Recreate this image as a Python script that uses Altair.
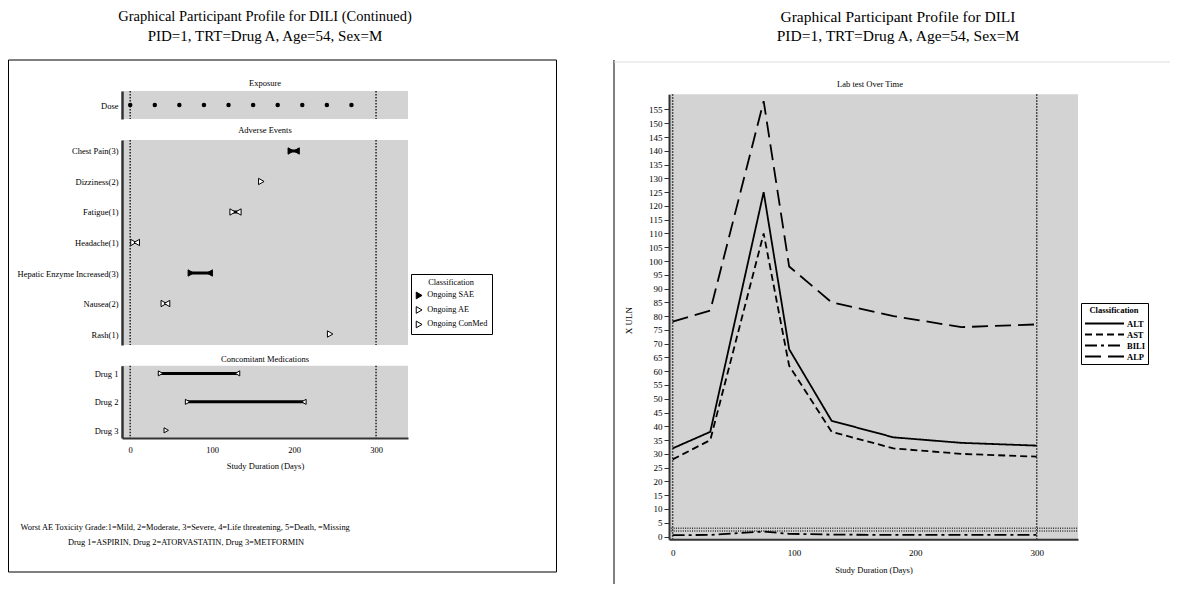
import altair as alt
import pandas as pd

FONT = "Liberation Serif"

# ---------------- data ----------------
title_left_1 = "Graphical Participant Profile for DILI (Continued)"
title_right_1 = "Graphical Participant Profile for DILI"
title_2 = "PID=1, TRT=Drug A, Age=54, Sex=M"
footnote_1 = "Worst AE Toxicity Grade:1=Mild, 2=Moderate, 3=Severe, 4=Life threatening, 5=Death, =Missing"
footnote_2 = "Drug 1=ASPIRIN, Drug 2=ATORVASTATIN, Drug 3=METFORMIN"

dose_days = [0, 30, 60, 90, 120, 150, 180, 210, 240, 270]

ae_terms = ["Chest Pain(3)", "Dizziness(2)", "Fatigue(1)", "Headache(1)",
            "Hepatic Enzyme Increased(3)", "Nausea(2)", "Rash(1)"]
ae_start = [196, 160, 125, 4, 74, 41, 244]
ae_end = [203, None, 132, 8, 97, 45, None]
ae_class = ["Ongoing SAE", "Ongoing AE", "Ongoing AE", "Ongoing AE",
            "Ongoing SAE", "Ongoing AE", "Ongoing AE"]

cm_drugs = ["Drug 1", "Drug 2", "Drug 3"]
cm_start = [37, 70, 44]
cm_end = [131, 212, None]
cm_class = ["Ongoing ConMed", "Ongoing ConMed", "Ongoing ConMed"]

class_names = ["Ongoing SAE", "Ongoing AE", "Ongoing ConMed"]

lab_days = [0, 31, 75, 96, 131, 182, 238, 300]
alt_vals = [32, 38, 125, 68, 42, 36, 34, 33]
ast_vals = [28, 35, 110, 62, 38, 32, 30, 29]
bili_vals = [0.5, 0.6, 1.8, 1.0, 0.7, 0.6, 0.6, 0.6]
alp_vals = [78, 82, 158, 98, 85, 80, 76, 77]
lab_tests = ["ALT", "AST", "BILI", "ALP"]

study_bounds = [0, 300]
hy_refs = [2, 3]
x_ticks = [0, 100, 200, 300]
y_ticks = [0, 5, 10, 15, 20, 25, 30, 35, 40, 45, 50, 55, 60, 65, 70, 75, 80,
           85, 90, 95, 100, 105, 110, 115, 120, 125, 130, 135, 140, 145, 150, 155]

# ---------------- tables ----------------
one = pd.DataFrame({"k": [0]})
df_dose = pd.DataFrame({"day": dose_days, "row": ["Dose"] * len(dose_days)})
df_ae = pd.DataFrame({"term": ae_terms, "start": ae_start, "end": ae_end, "cls": ae_class})
df_ae_end = df_ae.dropna(subset=["end"])
df_cm = pd.DataFrame({"term": cm_drugs, "start": cm_start, "end": cm_end, "cls": cm_class})
df_cm_end = df_cm.dropna(subset=["end"])
df_bounds = pd.DataFrame({"day": study_bounds})
df_refs = pd.DataFrame({"v": hy_refs})
lab_series = {"ALT": alt_vals, "AST": ast_vals, "BILI": bili_vals, "ALP": alp_vals}
df_lab = pd.DataFrame([
    {"day": d, "value": v, "test": t}
    for t in lab_tests for d, v in zip(lab_days, lab_series[t])
])

# ---------------- scales & guides ----------------
def XL():
    return alt.Scale(domain=[-10, 339], range=[114, 400], nice=False)

def XR():
    return alt.Scale(domain=[-3, 334], range=[661, 1070], nice=False)

def YR():
    return alt.Scale(domain=[-1, 160.5], range=[531.3, 86.3], nice=False)

def Y_DOSE():
    return alt.Scale(type="point", domain=["Dose"], range=[83, 111], padding=0.5)

def Y_AE():
    return alt.Scale(type="point", domain=ae_terms, range=[132, 337], padding=0.36)

def Y_CM():
    return alt.Scale(type="point", domain=cm_drugs, range=[357.7, 430], padding=0.27)

def FILL():
    return alt.Scale(domain=class_names, range=["black", "white", "white"])

def left_axis():
    return alt.Axis(orient="left", offset=-114, ticks=False, labelPadding=4,
                    domainColor="#333", domainWidth=2.5, labelFontSize=8.5,
                    labelColor="black", title=None, grid=False, labelFont=FONT,
                    zindex=2)

LEG_L = alt.Legend(title="Classification", orient="none", legendX=403, legendY=266,
                   direction="vertical", symbolType="triangle-right", symbolSize=45,
                   symbolStrokeColor="black", symbolStrokeWidth=1,
                   labelFontSize=8.3, titleFontSize=8.3, titleFontWeight="normal",
                   titleAnchor="middle", strokeColor="black", fillColor="white",
                   padding=4, rowPadding=2.5, labelOffset=4, labelColor="black",
                   titleColor="black", labelFont=FONT, titleFont=FONT)

LEG_R = alt.Legend(title="Classification", orient="none", legendX=1073, legendY=295,
                   direction="vertical", symbolType="stroke", symbolSize=1521,
                   symbolStrokeWidth=2, symbolStrokeColor="black", clipHeight=8,
                   labelFontSize=8.5, labelFontWeight="bold", titleFontSize=8.5,
                   titleFontWeight="bold", titleAnchor="middle", strokeColor="black",
                   fillColor="white", padding=3, rowPadding=2, labelOffset=2,
                   labelColor="black", titleColor="black", labelFont=FONT, titleFont=FONT)

GRAY = "#d3d3d3"
DOT = dict(strokeDash=[1.5, 1.5], strokeWidth=1.5, color="#222")

def gray_rect(x1, x2, y1, y2):
    return alt.Chart(one).mark_rect(fill=GRAY).encode(
        x=alt.value(x1), x2=alt.value(x2), y=alt.value(y1), y2=alt.value(y2))

def text_layer(txt, x, y, size, align="center"):
    return alt.Chart(pd.DataFrame({"t": [txt]})).mark_text(
        font=FONT, fontSize=size, align=align, baseline="middle", color="black"
    ).encode(x=alt.value(x), y=alt.value(y), text="t:N")

def bound_rules_left(y1, y2):
    return alt.Chart(df_bounds).mark_rule(**DOT).encode(
        x=alt.X("day:Q", scale=XL(), axis=None), y=alt.value(y1), y2=alt.value(y2))

# ---------------- layers ----------------
layers = []

# frames
layers.append(alt.Chart(one).mark_rect(fill="transparent", stroke="black", strokeWidth=1).encode(
    x=alt.value(0.5), x2=alt.value(548.5), y=alt.value(52), y2=alt.value(564)))
layers.append(alt.Chart(one).mark_rule(color="black", strokeWidth=1).encode(
    x=alt.value(606), y=alt.value(52), y2=alt.value(576)))
layers.append(alt.Chart(one).mark_rule(color="#dddddd", strokeWidth=1).encode(
    x=alt.value(606), x2=alt.value(1162), y=alt.value(54)))

# panel backgrounds
layers.append(gray_rect(114, 400, 83, 111))
layers.append(gray_rect(114, 400, 132, 337))
layers.append(gray_rect(114, 400, 357.7, 430))
layers.append(gray_rect(661, 1070, 86.3, 531.3))

# study day reference lines
layers.append(bound_rules_left(83, 111))
layers.append(bound_rules_left(132, 337))
layers.append(bound_rules_left(357.7, 430))
layers.append(alt.Chart(df_bounds).mark_rule(**DOT).encode(
    x=alt.X("day:Q", scale=XR(), axis=None), y=alt.value(86.3), y2=alt.value(531.3)))
layers.append(alt.Chart(df_refs).mark_rule(strokeDash=[1, 1.3], strokeWidth=1.6, color="#333").encode(
    y=alt.Y("v:Q", scale=YR(), axis=None), x=alt.value(661), x2=alt.value(1070)))

# exposure
layers.append(alt.Chart(df_dose).mark_point(filled=True, color="black", size=20, shape="circle", opacity=1).encode(
    x=alt.X("day:Q", scale=XL(), axis=None),
    y=alt.Y("row:N", scale=Y_DOSE(), axis=left_axis())))

# adverse events
layers.append(alt.Chart(df_ae_end).mark_rule(color="black", strokeWidth=3).encode(
    x=alt.X("start:Q", scale=XL(), axis=None), x2="end:Q",
    y=alt.Y("term:N", scale=Y_AE(), axis=None)))
layers.append(alt.Chart(df_ae).mark_point(filled=True, shape="triangle-right", size=40,
                                          stroke="black", strokeWidth=1, opacity=1).encode(
    x=alt.X("start:Q", scale=XL(), axis=None),
    y=alt.Y("term:N", scale=Y_AE(), axis=left_axis()),
    fill=alt.Fill("cls:N", scale=FILL(), legend=LEG_L)))
layers.append(alt.Chart(df_ae_end).mark_point(filled=True, shape="triangle-left", size=40,
                                              stroke="black", strokeWidth=1, opacity=1).encode(
    x=alt.X("end:Q", scale=XL(), axis=None),
    y=alt.Y("term:N", scale=Y_AE(), axis=None),
    fill=alt.Fill("cls:N", scale=FILL(), legend=None)))

# concomitant medications
layers.append(alt.Chart(df_cm_end).mark_rule(color="black", strokeWidth=3).encode(
    x=alt.X("start:Q", scale=XL(), axis=None), x2="end:Q",
    y=alt.Y("term:N", scale=Y_CM(), axis=None)))
layers.append(alt.Chart(df_cm).mark_point(filled=True, shape="triangle-right", size=26,
                                          stroke="black", strokeWidth=1, opacity=1).encode(
    x=alt.X("start:Q", scale=XL(), axis=alt.Axis(
        orient="bottom", offset=-146, values=x_ticks, ticks=False, labelPadding=7,
        domainColor="#333", domainWidth=2, labelFontSize=8.5, labelColor="black",
        labelFont=FONT, title="Study Duration (Days)", titleFont=FONT, titleFontSize=8.5,
        titleFontWeight="normal", titleColor="black", titleY=27, titleBaseline="middle",
        grid=False, zindex=2)),
    y=alt.Y("term:N", scale=Y_CM(), axis=left_axis()),
    fill=alt.Fill("cls:N", scale=FILL(), legend=None)))
layers.append(alt.Chart(df_cm_end).mark_point(filled=True, shape="triangle-left", size=26,
                                              stroke="black", strokeWidth=1, opacity=1).encode(
    x=alt.X("end:Q", scale=XL(), axis=None),
    y=alt.Y("term:N", scale=Y_CM(), axis=None),
    fill=alt.Fill("cls:N", scale=FILL(), legend=None)))

# lab lines
layers.append(alt.Chart(df_lab).mark_line(color="black", strokeWidth=1.8).encode(
    x=alt.X("day:Q", scale=XR(), axis=alt.Axis(
        orient="bottom", offset=-44.7, values=x_ticks, ticks=False, labelPadding=9,
        domainColor="#333", domainWidth=2, labelFontSize=9, labelColor="black",
        labelFont=FONT, title="Study Duration (Days)", titleFont=FONT, titleFontSize=8.5,
        titleFontWeight="normal", titleColor="black", titleY=29.7, titleBaseline="middle",
        grid=False, zindex=2)),
    y=alt.Y("value:Q", scale=YR(), axis=alt.Axis(
        orient="left", offset=-661, values=y_ticks, tickSize=5, tickColor="#333",
        labelPadding=2, domainColor="#333", domainWidth=2, labelFontSize=9,
        labelColor="black", labelFont=FONT, title="X ULN", titleFont=FONT,
        titleFontSize=9, titleFontWeight="normal", titleColor="black",
        titleX=-41, titleY=312, titleBaseline="middle", grid=False, zindex=2)),
    strokeDash=alt.StrokeDash("test:N", scale=alt.Scale(
        domain=lab_tests, range=[[1, 0], [7, 4], [12, 4, 3, 4], [16, 7]]), legend=LEG_R),
    order="day:Q"))

# texts
layers.append(text_layer(title_left_1, 257, 9, 14.5))
layers.append(text_layer(title_2, 257, 28, 15))
layers.append(text_layer(title_right_1, 890, 9, 15.5))
layers.append(text_layer(title_2, 890, 28, 15.5))
layers.append(text_layer("Exposure", 257, 75, 8.5))
layers.append(text_layer("Adverse Events", 257, 122, 8.5))
layers.append(text_layer("Concomitant Medications", 257, 351, 8.5))
layers.append(text_layer("Lab test Over Time", 862, 76, 8.5))
layers.append(text_layer(footnote_1, 12.5, 518.7, 8.4, align="left"))
layers.append(text_layer(footnote_2, 178, 534, 8.4))

chart = alt.layer(*layers).resolve_scale(
    x="independent", y="independent"
).properties(
    width=1162, height=576, autosize=alt.AutoSizeParams(type="none"), padding=0
).configure(font=FONT).configure_view(stroke="transparent").configure_axis(grid=False)

chart.save("out.html", embed_options={"renderer": "svg", "actions": False})
